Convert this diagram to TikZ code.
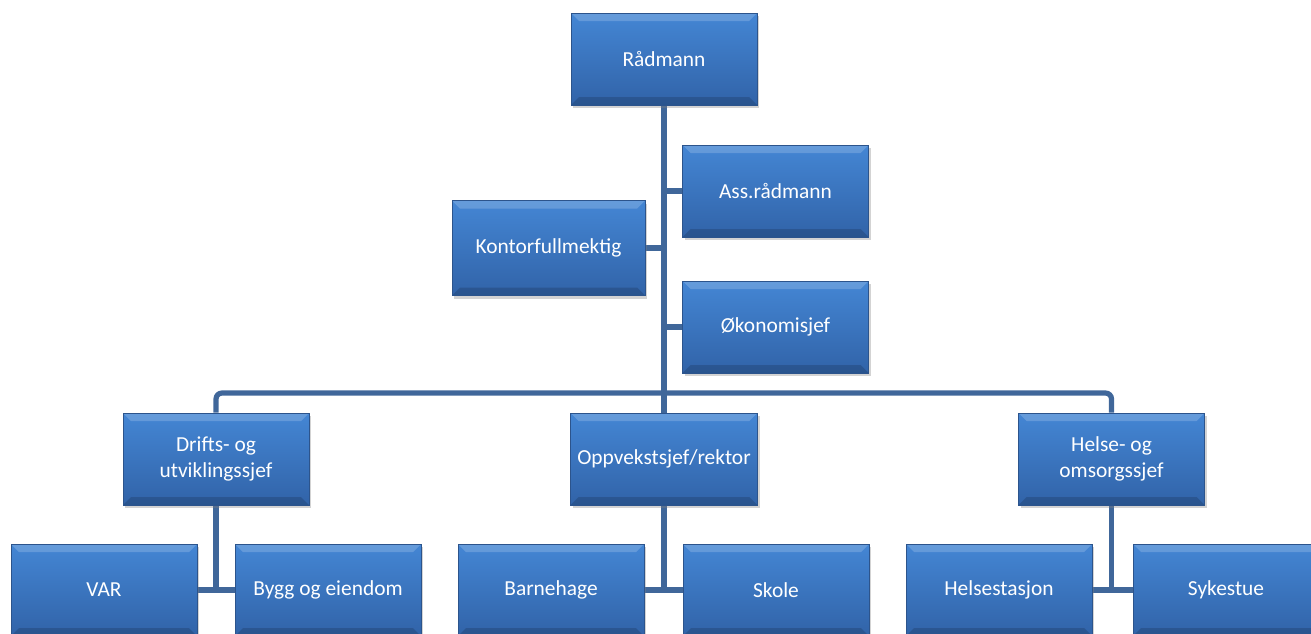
\documentclass[tikz,border=0pt]{standalone}
\usepackage{fontspec}
\setmainfont{Carlito}
\usetikzlibrary{shadows,backgrounds}
\definecolor{boxtop}{RGB}{68,134,212}
\definecolor{boxbot}{RGB}{49,99,168}
\definecolor{boxrim}{RGB}{44,84,140}
\definecolor{linkblue}{RGB}{64,103,154}
\tikzset{
  unit/.style={rectangle, minimum width=93pt, minimum height=46pt,
    top color=boxtop, bottom color=boxbot, draw=boxrim, line width=0.4pt,
    text=white, align=center, font=\fontsize{10.7}{12.7}\selectfont,
    drop shadow={shadow xshift=1.2pt, shadow yshift=-1.5pt, opacity=0.35},
    path picture={
      \fill[white,opacity=0.18] (path picture bounding box.north west) -- (path picture bounding box.north east)
        -- ([shift={(-4pt,-4pt)}]path picture bounding box.north east) -- ([shift={(4pt,-4pt)}]path picture bounding box.north west) -- cycle;
      \fill[black,opacity=0.15] (path picture bounding box.south west) -- (path picture bounding box.south east)
        -- ([shift={(-4pt,4pt)}]path picture bounding box.south east) -- ([shift={(4pt,4pt)}]path picture bounding box.south west) -- cycle;
    }},
  link/.style={draw=linkblue, line width=2.6pt}
}
\begin{document}
\begin{tikzpicture}[x=0.5pt,y=-0.5pt]
\useasboundingbox (0,0) rectangle (1311,633);
% ledelse
\node[unit] (radmann) at (664,59) {Rådmann};
\node[unit] (ass) at (775.5,191) {Ass.rådmann};
\node[unit, minimum width=96.5pt, minimum height=47.5pt] (kontor) at (548.5,248) {Kontorfullmektig};
\node[unit] (okonomi) at (775.5,327) {Økonomisjef};
% sjefer
\node[unit] (drifts) at (216,459) {Drifts- og\\utviklingssjef};
\node[unit] (oppvekst) at (664,459) {Oppvekstsjef/rektor};
\node[unit] (helse) at (1111.5,459) {Helse- og\\omsorgssjef};
% enheter
\node[unit] (var) at (104,590) {VAR};
\node[unit] (bygg) at (328,590) {Bygg og eiendom};
\node[unit] (barnehage) at (551,590) {Barnehage};
\node[unit] (skole) at (776,590) {Skole};
\node[unit] (helsestasjon) at (999,590) {Helsestasjon};
\node[unit] (sykestue) at (1226,590) {Sykestue};
\coordinate (bus) at (664,393);
\begin{pgfonlayer}{background}
\draw[link] (radmann.south) -- (oppvekst.north);
\draw[link] (ass.west) -- (ass.west -| radmann.south);
\draw[link] (kontor.east) -- (kontor.east -| radmann.south);
\draw[link] (okonomi.west) -- (okonomi.west -| radmann.south);
\draw[link, rounded corners=3pt] (drifts.north) |- (bus) -| (helse.north);
\draw[link] (var.east) -- (bygg.west);
\draw[link] (drifts.south) -- (drifts.south |- var.east);
\draw[link] (barnehage.east) -- (skole.west);
\draw[link] (oppvekst.south) -- (oppvekst.south |- skole.west);
\draw[link] (helsestasjon.east) -- (sykestue.west);
\draw[link] (helse.south) -- (helse.south |- sykestue.west);
\end{pgfonlayer}
\end{tikzpicture}
\end{document}
